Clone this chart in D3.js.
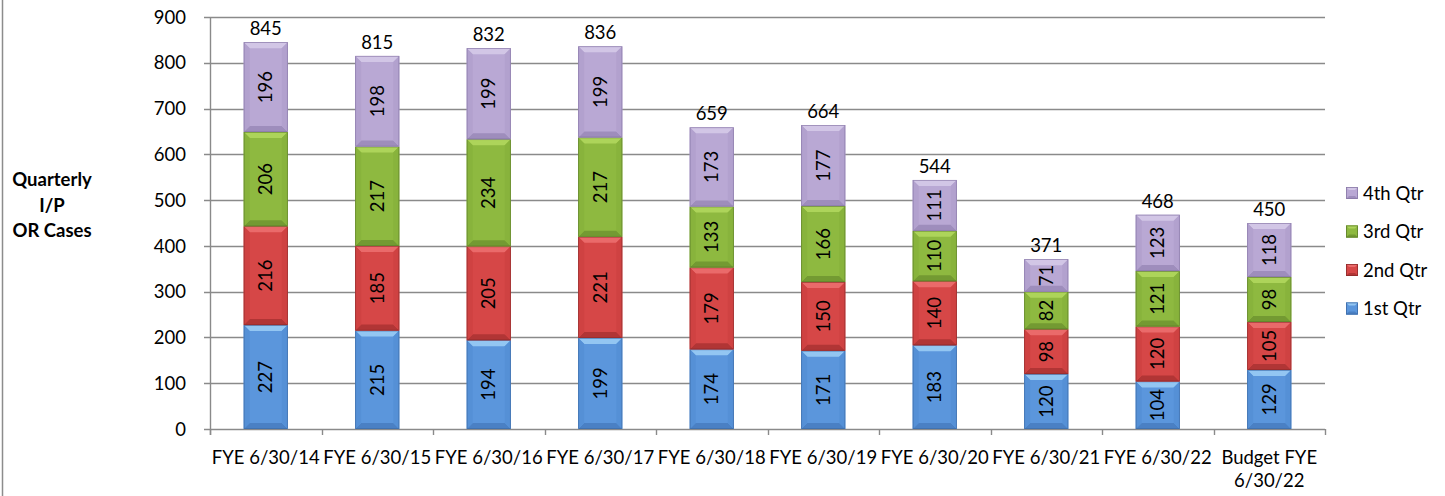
<!DOCTYPE html>
<html><head><meta charset="utf-8">
<script src="https://cdn.jsdelivr.net/npm/d3@7"></script>
<style>body{margin:0;background:#fff}svg{display:block}text{font-family:Lato,"Noto Sans",sans-serif;fill:#000}</style>
</head><body><svg id="c" width="1445" height="496"></svg>
<script>
const categories = ["FYE 6/30/14","FYE 6/30/15","FYE 6/30/16","FYE 6/30/17","FYE 6/30/18","FYE 6/30/19","FYE 6/30/20","FYE 6/30/21","FYE 6/30/22","Budget FYE|6/30/22"];
const q1 = [227,215,194,199,174,171,183,120,104,129];
const q2 = [216,185,205,221,179,150,140,98,120,105];
const q3 = [206,217,234,217,133,166,110,82,121,98];
const q4 = [196,198,199,199,173,177,111,71,123,118];
const totals = [845,815,832,836,659,664,544,371,468,450];
const seriesNames = ["1st Qtr","2nd Qtr","3rd Qtr","4th Qtr"];
const yTicks = [0,100,200,300,400,500,600,700,800,900];

const palette = [
  {main:"#5B96DC", top:"#93C6F2", side:"#5590D6", bot:"#4A80C4", edge:"#3C6AA5"},
  {main:"#D64747", top:"#EA6A6A", side:"#CF4242", bot:"#B13535", edge:"#8E2A2A"},
  {main:"#8EB940", top:"#ADD45A", side:"#88B33C", bot:"#739A32", edge:"#5E7E2A"},
  {main:"#B9A8D4", top:"#D2C6E6", side:"#B2A1CE", bot:"#9E8DBC", edge:"#8777A6"}
];

const svg = d3.select("#c");
const L = 210, R = 1325, T = 17, B = 429;
const x = d3.scaleBand().domain(categories).range([L,R]).paddingInner(0.605).paddingOuter(0.3025);
const y = d3.scaleLinear().domain([0,900]).range([B,T]);

// frame left border
svg.append("line").attr("x1",2.5).attr("x2",2.5).attr("y1",0).attr("y2",496).attr("stroke","#8c8c8c").attr("stroke-width",1.5);

// gridlines
svg.append("g").selectAll("line").data(yTicks).join("line")
  .attr("x1",L-6).attr("x2",R).attr("y1",d=>Math.round(y(d))+0.5).attr("y2",d=>Math.round(y(d))+0.5)
  .attr("stroke","#8a8a8a").attr("stroke-width",1.4);
// y axis labels
svg.append("g").selectAll("text").data(yTicks).join("text")
  .attr("x",186).attr("y",d=>y(d)).attr("dy","0.36em").attr("text-anchor","end")
  .style("font-size","18.5px").text(d=>d);
// y axis line
svg.append("line").attr("x1",L+0.5).attr("x2",L+0.5).attr("y1",T).attr("y2",B+6).attr("stroke","#8a8a8a").attr("stroke-width",1.4);
// x ticks at boundaries
const step = x.step();
const bounds = d3.range(categories.length+1).map(i=>L+i*step);
svg.append("g").selectAll("line").data(bounds).join("line")
  .attr("x1",d=>Math.round(d)+0.5).attr("x2",d=>Math.round(d)+0.5).attr("y1",B).attr("y2",B+6)
  .attr("stroke","#8a8a8a").attr("stroke-width",1.4);
// x labels
const xl = svg.append("g").selectAll("text").data(categories).join("text")
  .attr("x",d=>x(d)+x.bandwidth()/2).attr("y",464).attr("text-anchor","middle").style("font-size","18.5px");
xl.each(function(d){
  const parts = d.split("|");
  d3.select(this).selectAll("tspan").data(parts).join("tspan")
    .attr("x",x(d)+x.bandwidth()/2).attr("dy",(p,i)=>i?"1.25em":0).text(p=>p);
});

// stacked data
const rows = categories.map((c,i)=>({cat:c, v:[q1[i],q2[i],q3[i],q4[i]]}));
const stack = d3.stack().keys([0,1,2,3]).value((d,k)=>d.v[k]);
const layers = stack(rows);
const gb = svg.append("g");
layers.forEach((layer,k)=>{
  const col = palette[k];
  layer.forEach(seg=>{
    const x0 = x(seg.data.cat), x1 = x0 + x.bandwidth();
    const yt = y(seg[1]), yb = y(seg[0]);
    const b = Math.min(6, (yb-yt)/3);
    const g = gb.append("g");
    g.append("rect").attr("x",x0).attr("y",yt).attr("width",x1-x0).attr("height",yb-yt).attr("fill",col.main);
    g.append("path").attr("d",`M${x0},${yt}L${x1},${yt}L${x1-b},${yt+b}L${x0+b},${yt+b}Z`).attr("fill",col.top);
    g.append("path").attr("d",`M${x0},${yb}L${x1},${yb}L${x1-b},${yb-b}L${x0+b},${yb-b}Z`).attr("fill",col.bot);
    g.append("path").attr("d",`M${x0},${yt}L${x0+b},${yt+b}L${x0+b},${yb-b}L${x0},${yb}Z`).attr("fill",col.side);
    g.append("path").attr("d",`M${x1},${yt}L${x1-b},${yt+b}L${x1-b},${yb-b}L${x1},${yb}Z`).attr("fill",col.side);
    g.append("rect").attr("x",x0+0.4).attr("y",yt+0.4).attr("width",x1-x0-0.8).attr("height",yb-yt-0.8).attr("fill","none").attr("stroke",col.edge).attr("stroke-width",0.8).attr("stroke-opacity",0.8);
    const cx = (x0+x1)/2, cy = (yt+yb)/2;
    g.append("text").attr("transform",`translate(${cx},${cy}) rotate(-90)`).attr("text-anchor","middle").attr("dy","0.36em")
      .style("font-size","18.5px").text(seg.data.v[k]);
  });
});
// totals
svg.append("g").selectAll("text").data(categories).join("text")
  .attr("x",d=>x(d)+x.bandwidth()/2).attr("y",(d,i)=>y(totals[i])-10).attr("dy","0.15em").attr("text-anchor","middle")
  .style("font-size","18.5px").text((d,i)=>totals[i]);

// y title
const yt = svg.append("text").attr("x",52).attr("y",186).attr("text-anchor","middle").style("font-size","18.5px").style("font-weight","bold");
["Quarterly","I/P","OR Cases"].forEach((t,i)=>yt.append("tspan").attr("x",52).attr("dy",i?"1.38em":0).text(t));

// legend
const legOrder = [3,2,1,0];
const lg = svg.append("g");
legOrder.forEach((k,i)=>{
  const yy = 193 + i*38.5;
  const col = palette[k];
  const sx = 1346, sy = yy-6, s = 12, b=3;
  lg.append("rect").attr("x",sx).attr("y",sy).attr("width",s).attr("height",s).attr("fill",col.main);
  lg.append("path").attr("d",`M${sx},${sy}L${sx+s},${sy}L${sx+s-b},${sy+b}L${sx+b},${sy+b}Z`).attr("fill",col.top);
  lg.append("path").attr("d",`M${sx},${sy+s}L${sx+s},${sy+s}L${sx+s-b},${sy+s-b}L${sx+b},${sy+s-b}Z`).attr("fill",col.bot);
  lg.append("rect").attr("x",sx+0.4).attr("y",sy+0.4).attr("width",s-0.8).attr("height",s-0.8).attr("fill","none").attr("stroke",col.edge).attr("stroke-width",0.8);
  lg.append("text").attr("x",1363).attr("y",yy).attr("dy","0.36em").style("font-size","18.5px").text(seriesNames[k]);
});
</script></body></html>
